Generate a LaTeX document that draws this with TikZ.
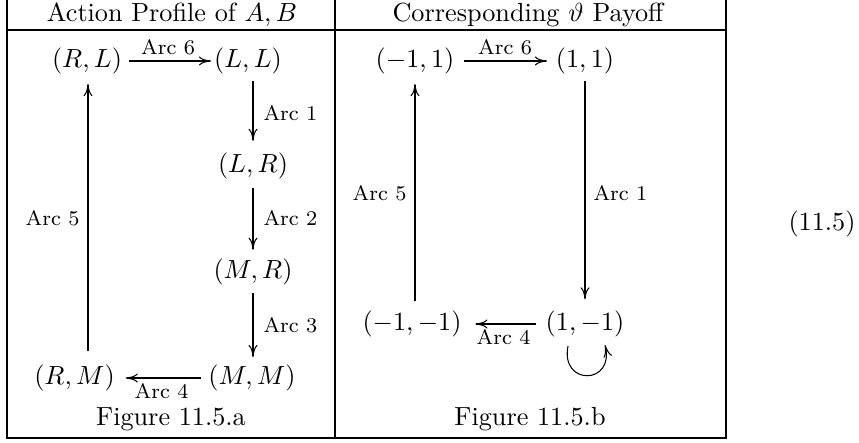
\documentclass[tikz,border=0pt]{standalone}
\usetikzlibrary{calc,arrows.meta}
\begin{document}
\begin{tikzpicture}[x=0.3817pt,y=-0.3817pt,
  st/.style={inner sep=0pt,outer sep=0pt},
  lbl/.style={inner sep=0pt,font=\footnotesize},
  arr/.style={-{To[length=4.6pt,width=3.4pt]},line width=0.4pt},
  frame/.style={line width=0.4pt}]
\useasboundingbox (0,0) rectangle (859,442);
% table
\draw[frame] (7,0) -- (7,438) -- (726,438) -- (726,0);
\draw[frame] (335,0) -- (335,438);
\draw[frame] (7,30) -- (726,30);
\node[st] (h1) at (172,15) {Action Profile of $A,B$};
\node[st] (h2) at (528,15) {Corresponding $\vartheta$ Payoff};
% left figure
\node[st] (RL) at (87,61) {$(R,L)$};
\node[st] (LL) at (248,61) {$(L,L)$};
\node[st] (LR) at (253,166) {$(L,R)$};
\node[st] (MR) at (253,272) {$(M,R)$};
\node[st] (MM) at (252,378) {$(M,M)$};
\node[st] (RM) at (74.5,378) {$(R,M)$};
\draw[arr,shorten <=2.7pt,shorten >=1.2pt] (RL.east) -- node[lbl,above=2pt] (a6l) {Arc 6} (LL.west);
\draw[arr,shorten <=2.7pt,shorten >=4.6pt] (LL.south -| LR.center) -- (LR.north);
\draw[arr,shorten <=3.5pt,shorten >=3.5pt] (LR.south) -- (MR.north);
\draw[arr,shorten <=3.0pt,shorten >=3.0pt] (MR.south) -- (MM.north -| MR.center);
\draw[arr,shorten <=3.0pt,shorten >=4.2pt] (MM.west) -- node[lbl,below=2pt] (a4l) {Arc 4} (RM.east);
\draw[arr,shorten <=5.5pt,shorten >=3.8pt] (RM.north -| 88,0) -- (RL.south -| 88,0);
\node[lbl,anchor=west] (a1l) at (263,113) {Arc 1};
\node[lbl,anchor=west] (a2l) at (263,218) {Arc 2};
\node[lbl,anchor=west] (a3l) at (263,325) {Arc 3};
\node[lbl,anchor=east] (a5l) at (80,218) {Arc 5};
\node[st] (fa) at (171,419) {Figure 11.5.a};
% right figure
\node[st] (P11m) at (415,61) {$(-1,1)$};
\node[st] (P11) at (585,61) {$(1,1)$};
\node[st] (Pmm) at (412,324) {$(-1,-1)$};
\node[st] (P1m) at (585,324) {$(1,-1)$};
\draw[arr,shorten <=3.8pt,shorten >=3.4pt] (P11m.east) -- node[lbl,above=2pt] (a6r) {Arc 6} (P11.west);
\draw[arr,shorten <=2.7pt,shorten >=4.4pt] (P11.south) -- (P1m.north);
\draw[arr,shorten <=3.8pt,shorten >=5.3pt] (P1m.west) -- node[lbl,below=2pt] (a4r) {Arc 4} (Pmm.east);
\draw[arr,shorten <=3.8pt,shorten >=3.8pt] (Pmm.north -| P11m.center) -- (P11m.south);
\draw[arr] ($(P1m.south)+(-17,9)$) .. controls +(-8,40) and +(10,40) .. ($(P1m.south)+(20,8)$);
\node[lbl,anchor=east] (a5r) at (407,193) {Arc 5};
\node[lbl,anchor=west] (a1r) at (593,193) {Arc 1};
\node[st] (fb) at (530,419) {Figure 11.5.b};
% equation number
\node[st] (eq) at (822,224) {(11.5)};
\end{tikzpicture}
\end{document}
